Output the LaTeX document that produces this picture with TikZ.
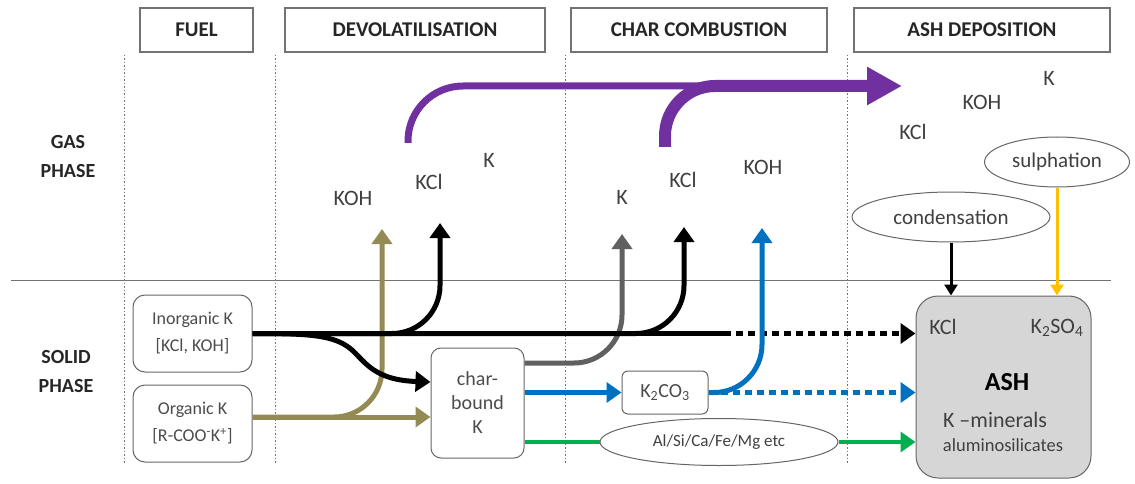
\documentclass[tikz,border=0pt]{standalone}
\usepackage{fontspec}
\setmainfont{Carlito}
\usetikzlibrary{arrows.meta,shapes.geometric,calc}

\definecolor{kpurple}{HTML}{7030A0}
\definecolor{kolive}{HTML}{948A54}
\definecolor{kblue}{HTML}{0070C0}
\definecolor{kgreen}{HTML}{00B050}
\definecolor{kgray}{HTML}{606060}
\definecolor{korange}{HTML}{FFC000}

\tikzset{
  stagebox/.style={draw=black!55, line width=1.2pt, minimum height=44, inner sep=0pt, text=black!85, font=\bfseries\fontsize{21}{24}\selectfont},
  phaselabel/.style={align=center, text=black!85, font=\bfseries\fontsize{20}{29}\selectfont},
  kbox/.style={draw=black!60, line width=1pt, rounded corners=12pt, align=center, inner sep=0pt, fill=white, text=black!70, font=\fontsize{18}{27}\selectfont},
  bubble/.style={draw=black!60, line width=1pt, ellipse, inner sep=0pt, fill=white, text=black!75, font=\fontsize{21}{24}\selectfont},
  species/.style={text=black!75, inner sep=0pt, font=\fontsize{22}{26}\selectfont},
  divider/.style={draw=black!55, line width=1pt, dash pattern=on 1.5pt off 2pt},
  flow/.style={line width=5pt, -{Triangle[length=15pt,width=20pt]}},
  thinflow/.style={line width=3pt, -{Triangle[length=11pt,width=13pt]}},
  dots/.style={dash pattern=on 7pt off 5pt},
}

\begin{document}
\begin{tikzpicture}[x=1pt,y=-1pt]
  \useasboundingbox (0,0) rectangle (1135,484);

  % stages
  \node[stagebox, minimum width=113] (fuel) at (196.5,30) {FUEL};
  \node[stagebox, minimum width=260] (devol) at (415,30) {DEVOLATILISATION};
  \node[stagebox, minimum width=256] (charc) at (699,30) {CHAR COMBUSTION};
  \node[stagebox, minimum width=256] (ashdep) at (982,30) {ASH DEPOSITION};
  \foreach \x in {124,275,565,847}{
    \draw[divider] (\x,55) -- (\x,463);
  }
  \draw[black!55, line width=0.8pt] (11,280) -- (1111,280);
  \node[phaselabel] (gas) at (68,157) {GAS\\PHASE};
  \node[phaselabel] (solid) at (66,372) {SOLID\\PHASE};

  % solid phase
  \node[kbox, minimum width=119, minimum height=77] (inorg) at (192.5,333.5) {Inorganic K\\{[KCl, KOH]}};
  \node[kbox, minimum width=119, minimum height=77] (org) at (192.5,423.5) {Organic K\\{[R-COO\textsuperscript{-}K\textsuperscript{+}]}};
  \node[kbox, minimum width=93, minimum height=110, rounded corners=10pt, font=\fontsize{20}{24}\selectfont] (charK) at (477.5,403) {char-\\bound\\K};
  \node[kbox, minimum width=86, minimum height=43, rounded corners=6pt, font=\fontsize{20}{22}\selectfont] (kco) at (665,392.5) {K\textsubscript{2}CO\textsubscript{3}};
  \node[bubble, minimum width=238, minimum height=47, font=\fontsize{17}{20}\selectfont] (oxides) at (719,442) {Al/Si/Ca/Fe/Mg etc};
  \node[draw=black!60, line width=1pt, fill=black!16, rounded corners=22pt, minimum width=175, minimum height=182] (ash) at (1003.5,387) {};
  \node[species] (ashkcl) at (943,327) {KCl};
  \node[species] (ashkso) at (1057,328) {K\textsubscript{2}SO\textsubscript{4}};
  \node[species, text=black, font=\bfseries\fontsize{26}{30}\selectfont] (ashname) at (1007,382) {ASH};
  \node[species, font=\fontsize{22}{26}\selectfont] (ashmin) at (995,420) {K --minerals};
  \node[species, font=\fontsize{18.5}{22}\selectfont] (ashalu) at (1003,445) {aluminosilicates};

  % gas phase
  \node[species] (kohA) at (353,198) {KOH};
  \node[species] (kclA) at (429,182) {KCl};
  \node[species] (kA) at (489,160) {K};
  \node[species] (kB) at (622,197) {K};
  \node[species] (kclB) at (683,180) {KCl};
  \node[species] (kohB) at (763,167) {KOH};
  \node[species] (kC) at (1049,78) {K};
  \node[species] (kohC) at (982,102) {KOH};
  \node[species] (kclC) at (913,132) {KCl};
  \node[bubble, minimum width=198, minimum height=50] (cond) at (951,217) {condensation};
  \node[bubble, minimum width=145, minimum height=50] (sulph) at (1057,162) {sulphation};

  \coordinate (oliveTip) at (382,229);
  \coordinate (blackTipA) at (440,223);
  \coordinate (grayTip) at (622,234);
  \coordinate (blackTipB) at (684,227);
  \coordinate (blueTip) at (762,228);
  \coordinate (blackDash) at (724,333.5);
  \coordinate (purpA) at (408,143);
  \coordinate (purpB) at (665,147);
  \coordinate (purpTip) at (902,86);

  % release to the gas
  \draw[kpurple, line width=7pt, rounded corners=55pt] (purpA) |- ($(purpTip)+(-34,0)$);
  \draw[kpurple, line width=12pt, rounded corners=50pt, -{Triangle[length=35pt,width=36pt]}] (purpB) |- (purpTip);
  \draw[flow, kolive, rounded corners=48pt] ($(org.east)+(0,-6.5)$) -| (oliveTip);
  \draw[flow, kolive] ($(org.east)+(0,-6.5)$) -- ($(charK.west)+(0,14)$);
  \draw[flow, kgray, rounded corners=48pt] ($(charK.east)+(0,-40)$) -| (grayTip);
  \draw[flow, rounded corners=48pt] (inorg.east) -| (blackTipA);
  \draw[flow, rounded corners=48pt] (inorg.east) -| (blackTipB);
  \draw[flow] (inorg.east) .. controls (310,333.5) and (335,335) .. (352,350)
    .. controls (366,363) and (375,380) .. ($(charK.west)+(0,-21)$);
  \draw[line width=5pt] (inorg.east) -- (blackDash);
  \draw[flow, dots] (blackDash) -- (ash.west |- blackDash);
  \draw[flow, kblue] (charK.east |- kco.west) -- (kco.west);
  \draw[flow, kblue, rounded corners=48pt] (kco.east) -| (blueTip);
  \draw[flow, kblue, dots] ($(kco.east)+(12,0)$) -- (ash.west |- kco.east);
  \draw[line width=4.5pt, kgreen] (charK.east |- oxides.west) -- (oxides.west);
  \draw[flow, kgreen, line width=4.5pt] (oxides.east) -- (ash.west |- oxides.east);
  \draw[thinflow] (cond.south) -- (cond.south |- ash.north);
  \draw[thinflow, korange] (sulph.south) -- (sulph.south |- ash.north);
\end{tikzpicture}
\end{document}
